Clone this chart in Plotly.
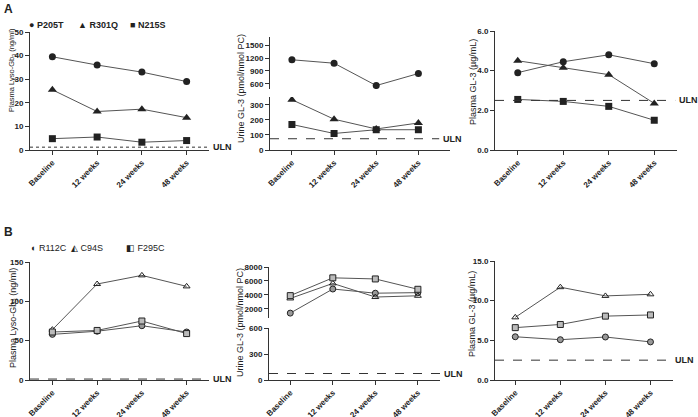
import plotly.graph_objects as go

W, H = 698, 417
FONT = "Arial, Liberation Sans, sans-serif"

timepoints = ["Baseline", "12 weeks", "24 weeks", "48 weeks"]

# Panel A - patients with amenable mutations
a_names = ["P205T", "R301Q", "N215S"]
a_lyso = [[39.5, 36.0, 33.0, 29.0], [25.5, 16.3, 17.3, 13.7], [4.8, 5.5, 3.3, 4.0]]
a_urine = [[1160, 1080, 560, 840], [335, 205, 140, 180], [170, 110, 135, 135]]
a_plasma = [[3.9, 4.45, 4.8, 4.35], [4.5, 4.15, 3.8, 2.35], [2.55, 2.45, 2.2, 1.5]]

# Panel B
b_names = ["R112C", "C94S", "F295C"]
b_lyso = [[58, 62, 69, 61], [64, 122, 133, 119], [61, 63, 75, 59]]
b_urine = [[1400, 4850, 4250, 4330], [3500, 5650, 3700, 3880], [3900, 6450, 6290, 4810]]
b_plasma = [[5.45, 5.08, 5.42, 4.8], [7.9, 11.7, 10.6, 10.8], [6.6, 7.0, 8.05, 8.2]]

# upper limits of normal
uln_lyso = 1.2
uln_urine = 75
uln_plasma = 2.5

a_markers = [dict(symbol="circle", size=7, color="#222"),
             dict(symbol="triangle-up", size=8, color="#222"),
             dict(symbol="square", size=7, color="#222")]
b_markers = [dict(symbol="circle", size=6, color="#999", line=dict(color="#222", width=1)),
             dict(symbol="triangle-up-open", size=6, color="#222", line=dict(width=1)),
             dict(symbol="square", size=6, color="#bbb", line=dict(color="#222", width=1))]


def xd(a, b):
    return [a / W, b / W]


def yd(top, bot):
    return [1 - bot / H, 1 - top / H]


fig = go.Figure()


def add_series(values, markers, xa, ya_low, ya_high=None, low_top=None):
    for vals, mk in zip(values, markers):
        ya = ya_low
        if ya_high is not None and max(vals) > low_top:
            ya = ya_high
        fig.add_trace(go.Scatter(x=timepoints, y=vals, mode="lines+markers",
                                 line=dict(color="#555", width=1), marker=mk,
                                 xaxis=xa, yaxis=ya, showlegend=False))


add_series(a_lyso, a_markers, "x", "y")
add_series(a_urine, a_markers, "x2", "y2", "y3", 353)
add_series(a_plasma, a_markers, "x4", "y4")
add_series(b_lyso, b_markers, "x5", "y5")
add_series(b_urine, b_markers, "x6", "y6", "y7", 600)
add_series(b_plasma, b_markers, "x8", "y8")

axis_common = dict(showline=True, linecolor="#333", linewidth=1, ticks="outside",
                   ticklen=4, tickcolor="#333", showgrid=False, zeroline=False,
                   automargin=False,
                   tickfont=dict(family=FONT, size=8, color="#222", weight="bold"))


def xaxis(dom, anchor, rng):
    d = dict(axis_common)
    d.update(domain=dom, anchor=anchor, range=rng, type="category", tickangle=-45)
    return d


def yaxis(dom, anchor, rng, tickvals, ticktext=None):
    d = dict(axis_common)
    d.update(domain=dom, anchor=anchor, range=rng, tickvals=tickvals,
             ticktext=ticktext or [str(t) for t in tickvals])
    return d


fig.update_layout(
    width=W, height=H, margin=dict(l=0, r=0, t=0, b=0, autoexpand=False),
    plot_bgcolor="white", paper_bgcolor="white",
    font=dict(family=FONT, size=8, color="#222"),
    xaxis=xaxis(xd(30, 209), "y", [-0.5, 3.5]),
    yaxis=yaxis(yd(32, 150), "x", [0, 50], [0, 10, 20, 30, 40, 50]),
    xaxis2=xaxis(xd(270, 450), "y2", [-0.52, 3.75]),
    yaxis2=yaxis(yd(97, 150), "x2", [0, 353], [0, 100, 200, 300]),
    yaxis3=yaxis(yd(37, 89), "x2", [480, 1690], [600, 900, 1200, 1500]),
    xaxis4=xaxis(xd(495, 677), "y4", [-0.5, 3.5]),
    yaxis4=yaxis(yd(31, 150), "x4", [0, 6], [0, 2, 4, 6], ["0.0", "2.0", "4.0", "6.0"]),
    xaxis5=xaxis(xd(30, 209), "y5", [-0.5, 3.5]),
    yaxis5=yaxis(yd(262, 380), "x5", [0, 150], [0, 50, 100, 150]),
    xaxis6=xaxis(xd(269, 440), "y6", [-0.5, 3.52]),
    yaxis6=yaxis(yd(328, 380), "x6", [0, 600], [0, 300, 600]),
    yaxis7=yaxis(yd(267, 318), "x6", [700, 8000], [2000, 4000, 6000, 8000]),
    xaxis8=xaxis(xd(495, 673), "y8", [-0.45, 3.5]),
    yaxis8=yaxis(yd(261, 380), "x8", [0, 15], [0, 5, 10, 15], ["0.0", "5.0", "10.0", "15.0"]),
)

# ULN reference lines
uln_lines = [("x", "y", uln_lyso, 1.0, "dot"), ("x2", "y2", uln_urine, 0.94, "dash"),
             ("x4", "y4", uln_plasma, 0.99, "dash"), ("x5", "y5", uln_lyso, 1.0, "dash"),
             ("x6", "y6", uln_urine, 1.0, "dash"), ("x8", "y8", uln_plasma, 0.99, "dash")]
for xa, ya, val, end, dash in uln_lines:
    fig.add_shape(type="line", xref=xa + " domain", yref=ya, x0=0, x1=end, y0=val, y1=val,
                  line=dict(color="#333", width=1, dash=dash))
    fig.add_annotation(xref=xa + " domain", yref=ya, x=end + 0.01, y=val, text="<b>ULN</b>",
                       showarrow=False, xanchor="left", yanchor="middle",
                       font=dict(size=9, family=FONT, color="#222"))

# y axis titles
titles = [("Plasma Lyso-Gb<sub>3</sub> (ng/ml)", 12, 70, 7.5), ("Urine GL-3 (pmol/nmol PC)", 241, 88, 9),
          ("Plasma GL-3 (µg/mL)", 473, 82, 9), ("Plasma Lyso-Gb<sub>3</sub> (ng/ml)", 13, 318, 9),
          ("Urine GL-3 (pmol/nmol PC)", 240, 322, 9), ("Plasma GL-3 (µg/mL)", 472, 314, 9)]
for txt, px, py, fs in titles:
    fig.add_annotation(xref="paper", yref="paper", x=px / W, y=1 - py / H, text=txt,
                       textangle=-90, showarrow=False, xanchor="center", yanchor="middle",
                       font=dict(size=fs, family=FONT, color="#222"))

# panel letters
for letter, py in [("A", 9), ("B", 232)]:
    fig.add_annotation(xref="paper", yref="paper", x=2 / W, y=1 - py / H, text="<b>" + letter + "</b>",
                       showarrow=False, xanchor="left", yanchor="middle",
                       font=dict(size=12, family=FONT, color="#222"))

# legends
a_glyphs = ["●", "▲", "■"]
b_glyphs = ["◐", "◭", "◧"]
for i, (g, name) in enumerate(zip(a_glyphs, a_names)):
    fig.add_annotation(xref="paper", yref="paper", x=[27, 76, 128][i] / W, y=1 - 18 / H,
                       text="<b>" + g + " " + name + "</b>", showarrow=False, xanchor="left",
                       font=dict(size=9, family=FONT, color="#222"))
for i, (g, name) in enumerate(zip(b_glyphs, b_names)):
    fig.add_annotation(xref="paper", yref="paper", x=[29, 69, 124][i] / W, y=1 - 248 / H,
                       text=g + " " + name, showarrow=False, xanchor="left",
                       font=dict(size=9, family=FONT, color="#222"))

# the page body has a default 8px margin; drop it so the figure fills the window
fig.write_html("out.html", config={"displayModeBar": False},
               post_script="document.body.style.margin='0';")
